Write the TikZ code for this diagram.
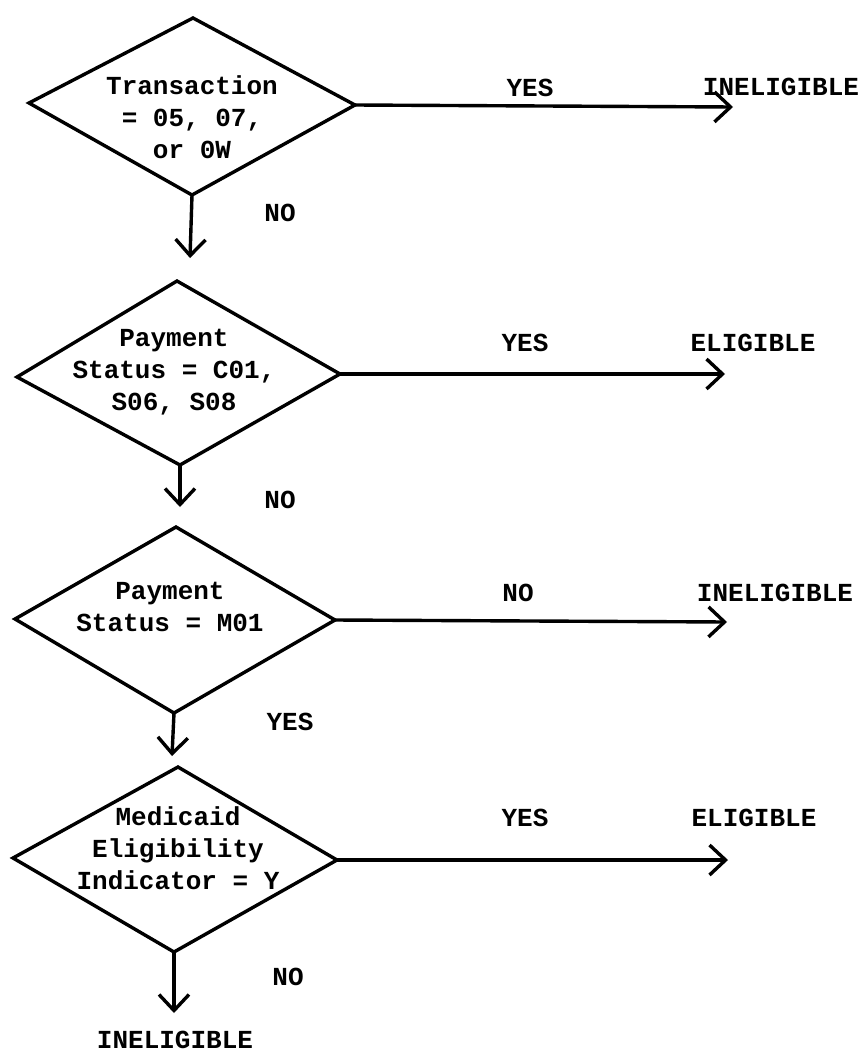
\documentclass[tikz,border=0pt]{standalone}
\usepackage{fontspec}
\setmainfont{Liberation Mono}
\usetikzlibrary{arrows.meta}
\begin{document}
\begin{tikzpicture}[x=1pt,y=-1pt,
  line width=3.4pt, line join=miter,
  flow/.style={line width=3.4pt, -{Straight Barb[length=16pt,width=30pt,line width=3.4pt]}},
  dtext/.style={align=center, inner sep=0pt, font=\fontsize{26}{32}\selectfont\bfseries},
  lab/.style={inner sep=0pt, font=\fontsize{26}{32}\selectfont\bfseries},
  decision/.style={draw, line width=3.4pt}]
\useasboundingbox (0,0) rectangle (866,1052);
% diamond vertices
\coordinate (d1t) at (193,18);  \coordinate (d1l) at (29,103);
\coordinate (d1r) at (355,105); \coordinate (d1b) at (192,195);
\coordinate (d2t) at (177,281); \coordinate (d2l) at (17,377);
\coordinate (d2r) at (340,374); \coordinate (d2b) at (180,465);
\coordinate (d3t) at (176,527); \coordinate (d3l) at (15,619);
\coordinate (d3r) at (335,620); \coordinate (d3b) at (174,713);
\coordinate (d4t) at (178,767); \coordinate (d4l) at (13,858);
\coordinate (d4r) at (337,860); \coordinate (d4b) at (174,952);
\draw[decision] (d1t) -- (d1r) -- (d1b) -- (d1l) -- cycle;
\draw[decision] (d2t) -- (d2r) -- (d2b) -- (d2l) -- cycle;
\draw[decision] (d3t) -- (d3r) -- (d3b) -- (d3l) -- cycle;
\draw[decision] (d4t) -- (d4r) -- (d4b) -- (d4l) -- cycle;
% diamond texts
\node[dtext] (q1) at (192,117) {Transaction\\= 05, 07,\\or 0W};
\node[dtext] (q2) at (174,372) {Payment\\Status = C01,\\S06, S08};
\node[dtext] (q3) at (170,607) {Payment\\Status = M01};
\node[dtext] (q4) at (178,848) {Medicaid\\Eligibility\\Indicator = Y};
% arrow ends
\coordinate (e1) at (733,107);
\coordinate (e2) at (725,374);
\coordinate (e3) at (727,622);
\coordinate (e4) at (728,860);
\coordinate (f1) at (190,258);
\coordinate (f2) at (180,507);
\coordinate (f3) at (172,756);
\coordinate (f4) at (174,1013);
\draw[flow] (d1r) -- (e1);
\draw[flow] (d2r) -- (e2);
\draw[flow] (d3r) -- (e3);
\draw[flow] (d4r) -- (e4);
\draw[flow] (d1b) -- (f1);
\draw[flow] (d2b) -- (f2);
\draw[flow] (d3b) -- (f3);
\draw[flow] (d4b) -- (f4);
% labels
\node[lab] (y1) at (530,88) {YES};
\node[lab] (r1) at (781,87) {INELIGIBLE};
\node[lab] (y2) at (525,343) {YES};
\node[lab] (r2) at (753,343) {ELIGIBLE};
\node[lab] (n3) at (518,593) {NO};
\node[lab] (r3) at (775,593) {INELIGIBLE};
\node[lab] (y4) at (525,818) {YES};
\node[lab] (r4) at (754,818) {ELIGIBLE};
\node[lab] (n1) at (280,213) {NO};
\node[lab] (n2) at (280,500) {NO};
\node[lab] (y3) at (290,722) {YES};
\node[lab] (n4) at (288,977) {NO};
\node[lab] (r5) at (175,1040) {INELIGIBLE};
\end{tikzpicture}
\end{document}
